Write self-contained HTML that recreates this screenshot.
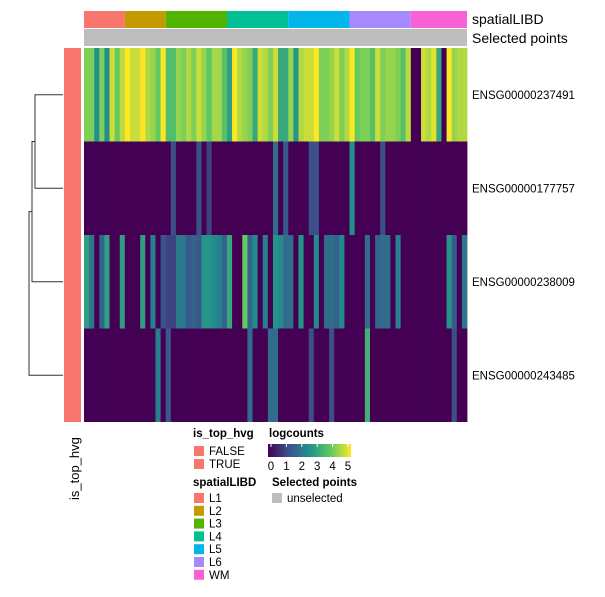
<!DOCTYPE html>
<html><head><meta charset="utf-8"><style>
body{margin:0;background:#fff;width:605px;height:592px;overflow:hidden}
svg text{font-family:"Liberation Sans",sans-serif;fill:#000}
</style></head><body>
<svg id="chart" width="605" height="592">
<g id="cells"></g>
<g id="anno"></g>
<g id="dendro" stroke="#333" stroke-width="1" fill="none"></g>
<rect x="64" y="48" width="17" height="374" fill="#F8766D"/>
<text transform="translate(79,500) rotate(-90)" font-size="13">is_top_hvg</text>
<text x="472" y="24" font-size="14">spatialLIBD</text>
<text x="472" y="43" font-size="14">Selected points</text>
<g id="rowlabels" font-size="11.5"></g>
<g id="legend" font-size="11.5">
<text x="193" y="437" font-weight="bold">is_top_hvg</text>
<rect x="194" y="446" width="10" height="10" fill="#F8766D"/>
<text x="209" y="455">FALSE</text>
<rect x="194" y="459" width="10" height="10" fill="#F8766D"/>
<text x="209" y="468">TRUE</text>
<text x="193" y="486" font-weight="bold">spatialLIBD</text>
<text x="269" y="437" font-weight="bold">logcounts</text>
<rect x="268" y="444" width="83" height="13" fill="url(#vir)"/>
<text x="272" y="486" font-weight="bold">Selected points</text>
<rect x="272" y="493" width="10" height="10" fill="#BEBEBE"/>
<text x="287" y="502">unselected</text>
<g id="spleg"></g><g id="cbticks"></g>
</g>
<defs><linearGradient id="vir"><stop offset="0" stop-color="#440154"/><stop offset="0.25" stop-color="#3B528B"/><stop offset="0.5" stop-color="#21908C"/><stop offset="0.75" stop-color="#5DC963"/><stop offset="1" stop-color="#FDE725"/></linearGradient></defs>
</svg>
<script>
const genes=["ENSG00000237491","ENSG00000177757","ENSG00000238009","ENSG00000243485"];
const layers=["L1","L2","L3","L4","L5","L6","WM"];
const layerCounts=[8,8,12,12,12,12,11];
const layerColors=["#F8766D","#C49A00","#53B400","#00C094","#00B6EB","#A58AFF","#FB61D7"];
const row1=[4.0,4.0,2.5,4.0,2.5,4.6,3.8,4.5,5.0,4.6,4.6,5.0,4.4,4.2,3.8,5.0,3.5,3.5,4.2,4.0,4.4,4.0,4.6,4.2,3.7,4.3,4.3,3.6,2.8,5.0,4.4,4.2,4.0,3.0,4.6,4.4,4.0,4.6,3.0,3.0,4.2,2.6,4.4,4.6,4.6,5.0,4.0,4.0,4.2,4.6,4.0,4.4,5.0,3.8,4.0,4.0,3.6,4.6,4.0,4.2,4.2,4.0,3.6,4.5,0,0,4.6,4.4,4.8,3.0,0,5.0,4.2,4.4,4.4];
const row2=[0,0,0,0,0,0,0,0,0,0,0,0,0,0,0,0,0,1.2,0,0,0,0,1.2,0,1.0,0,0,0,0,0,0,0,0,0,0,0,0,1.8,0,1.4,0,0,0,0,1.2,1.2,0,0,0,0,0,0,2.5,0,0,0,0,0,1.2,0,0,0,0,0,0,0,0,0,0,0,0,0,0,0,0];
const row3=[2.8,2.0,0,1.6,2.8,0,0,2.8,0,0,0,2.8,0,2.2,0,1.3,1.0,1.0,2.0,2.0,1.4,1.6,1.4,2.6,2.6,2.4,2.2,1.6,3.0,0,0,3.8,1.6,2.4,0,2.2,0,2.6,2.4,1.8,1.8,0,2.6,0,0,2.4,0,1.8,1.8,1.6,2.4,0,0,0,0,1.8,0,1.6,1.8,1.8,0,2.2,0,0,0,0,0,0,0,0,0,2.6,1.4,0,2.0];
const row4=[0,0,0,0,0,0,0,0,0,0,0,0,0,0,2.2,0,1.4,0,0,0,0,0,0,0,0,0,0,0,0,0,0,0,1.8,0,0,0,1.8,1.8,0,0,0,0,0,0,1.2,0,0,0,1.2,0,0,0,0,0,0,3.2,0,0,0,0,0,0,0,0,0,0,0,0,0,0,0,0,1.2,0,0];
const ticks=[0,1,2,3,4,5];
const NS="http://www.w3.org/2000/svg";
const rows=[row1,row2,row3,row4];
const X0=84,X1=467,Y0=48,Y1=422,ncol=row1.length;
const cw=(X1-X0)/ncol,rh=(Y1-Y0)/rows.length;
const xs=i=>X0+i*cw, ys=r=>Y0+r*rh;
const V=[[68,1,84],[59,82,139],[33,144,140],[93,201,99],[253,231,37]];
function vir(v){let t=Math.max(0,Math.min(1,v/5))*4,i=Math.min(3,Math.floor(t)),f=t-i;
const c=V[i].map((a,k)=>Math.round(a+(V[i+1][k]-a)*f));return `rgb(${c})`;}
function mk(tag,at,p){const e=document.createElementNS(NS,tag);for(const k in at)e.setAttribute(k,at[k]);p.appendChild(e);return e;}
const cells=document.getElementById('cells');
rows.forEach((row,r)=>row.forEach((v,i)=>{
const e=mk('rect',{x:xs(i),y:ys(r),width:cw+0.4,height:rh,fill:vir(v)},cells);


}));
const anno=document.getElementById('anno');
let c0=0;
layerCounts.forEach((n,k)=>{
const e=mk('rect',{x:xs(c0),y:11,width:n*cw,height:17,fill:layerColors[k]},anno);


c0+=n;});
const sel=mk('rect',{x:X0,y:29,width:X1-X0,height:17,fill:"#BEBEBE"},anno);


const rl=document.getElementById('rowlabels');
genes.forEach((g,r)=>{const t=mk('text',{x:472,y:ys(r)+rh/2+4},rl);t.textContent=g;

});
const d=document.getElementById('dendro');
const cy=r=>ys(r)+rh/2;
const m1=(cy(0)+cy(1))/2,m2=(m1+cy(2))/2;
[[`M63 ${cy(0)}H35V${cy(1)}H63`],[`M35 ${m1}H32V${cy(2)}H63`],[`M32 ${m2}H29V${cy(3)}H63`]].forEach((p,i)=>{
const e=mk('path',{d:p[0]},d);

});
const sp=document.getElementById('spleg');
layers.forEach((l,k)=>{const y=493+k*12.8;
const r=mk('rect',{x:194,y:y,width:10,height:10,fill:layerColors[k]},sp);


const t=mk('text',{x:209,y:y+9},sp);t.textContent=l;

});
const cb=document.getElementById('cbticks');
ticks.forEach(v=>{const x=271+v*15.4;
const l=mk('line',{x1:x,x2:x,y1:444,y2:447,stroke:"#fff","stroke-width":1},cb);


const t=mk('text',{x:x,y:470,"text-anchor":"middle"},cb);t.textContent=v;

});
</script>
</body></html>
